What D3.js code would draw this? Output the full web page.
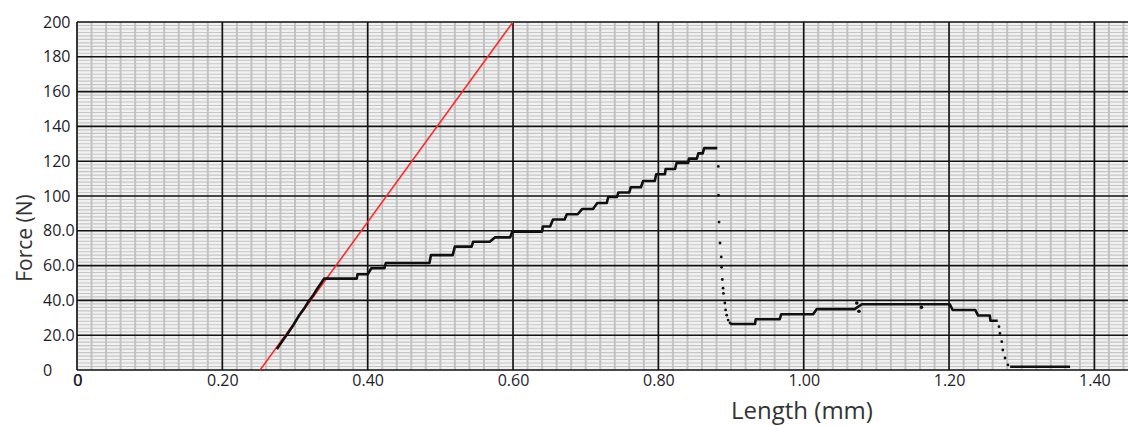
<!DOCTYPE html>
<html>
<head>
<meta charset="utf-8">
<script src="https://cdn.jsdelivr.net/npm/d3@7"></script>
<style>
  html, body { margin: 0; padding: 0; background: #fff; }
  svg { display: block; }
  text { font-family: "Open Sans", "DejaVu Sans", sans-serif; }
</style>
</head>
<body>
<svg id="chart" width="1128" height="426"></svg>
<script>
// Axis ticks
const xTickValues = [0, 0.2, 0.4, 0.6, 0.8, 1.0, 1.2, 1.4];
const xTickLabels = ["0", "0.20", "0.40", "0.60", "0.80", "1.00", "1.20", "1.40"];
const yTickValues = [0, 20, 40, 60, 80, 100, 120, 140, 160, 180, 200];
const yTickLabels = ["0", "20.0", "40.0", "60.0", "80.0", "100", "120", "140", "160", "180", "200"];

// Elastic slope reference line (length mm, force N)
const fitLength = [0.252, 0.600];
const fitForce = [0, 200];

// Initial elastic rise of the specimen
const elasticLength = [0.275, 0.283, 0.290, 0.298, 0.305, 0.312, 0.318, 0.325, 0.331, 0.336, 0.340];
const elasticForce = [12, 17, 21, 26, 31, 35, 39, 43, 47, 50, 52.5];

// Stepped loading after yield: start length, end length, force
const loadStart = [0.340, 0.386, 0.405, 0.425, 0.487, 0.520, 0.545, 0.575, 0.599, 0.641, 0.655, 0.674, 0.695, 0.716, 0.731, 0.745, 0.762, 0.779, 0.797, 0.810, 0.825, 0.842, 0.855, 0.863];
const loadEnd   = [0.385, 0.400, 0.423, 0.485, 0.517, 0.543, 0.568, 0.596, 0.640, 0.651, 0.671, 0.689, 0.710, 0.729, 0.743, 0.760, 0.776, 0.795, 0.809, 0.823, 0.841, 0.853, 0.861, 0.881];
const loadForce = [52.5, 55, 58.5, 61.5, 66, 70.9, 73.7, 76.2, 79.5, 82.5, 86.5, 89.5, 92.5, 96, 99.4, 102, 105, 108.6, 112.5, 115.5, 119, 121.5, 124.5, 127.5];

// Sparse samples during the fracture drop
const fractureLength = [0.8825, 0.8828, 0.8835, 0.8848, 0.8865, 0.887, 0.888, 0.889, 0.8895, 0.8915, 0.8925, 0.894, 0.896, 0.8986];
const fractureForce  = [117, 100.5, 85, 73, 65, 59, 52, 47, 44, 38.5, 34.5, 31.5, 28.7, 27];

// Residual load plateau steps
const residualStart = [0.899, 0.934, 0.969, 1.018, 1.080, 1.205, 1.240, 1.257];
const residualEnd   = [0.933, 0.967, 1.013, 1.070, 1.201, 1.236, 1.256, 1.267];
const residualForce = [26.4, 29.2, 32, 35, 37.8, 34.5, 31.3, 28.3];

// Isolated glitch samples on the plateau
const glitchLength = [1.073, 1.076, 1.162];
const glitchForce = [38.5, 33.8, 36];

// Final release samples and remaining flat load
const releaseLength = [1.2687, 1.270, 1.2725, 1.274, 1.277, 1.281];
const releaseForce  = [24.9, 21, 16.3, 11.5, 6.9, 2.9];
const finalLength = [1.284, 1.3665];
const finalForce = [1.9, 1.9];

const W = 1128, H = 426;
const svg = d3.select("#chart");

const x = d3.scaleLinear().domain([0, 1.4]).range([77, 1094.4]);
const y = d3.scaleLinear().domain([0, 200]).range([370, 22]);
const xMax = x.invert(W);
const plotLeft = x(0), plotRight = W, plotTop = y(200), plotBottom = y(0);

svg.append("defs").append("clipPath").attr("id", "plot-clip")
  .append("rect")
  .attr("x", plotLeft).attr("y", plotTop)
  .attr("width", plotRight - plotLeft).attr("height", plotBottom - plotTop);

// Grid background
svg.append("rect")
  .attr("x", plotLeft).attr("y", plotTop)
  .attr("width", plotRight - plotLeft).attr("height", plotBottom - plotTop)
  .attr("fill", "#f1f1f1");

const grid = svg.append("g");

grid.selectAll("line.hminor")
  .data(d3.range(0, 201, 2))
  .join("line")
  .attr("class", "hminor")
  .attr("x1", plotLeft).attr("x2", plotRight)
  .attr("y1", d => y(d)).attr("y2", d => y(d))
  .attr("stroke", "#c6c6c6").attr("stroke-width", 1.1);

grid.selectAll("line.vminor")
  .data(d3.range(0, xMax, 0.02))
  .join("line")
  .attr("class", "vminor")
  .attr("x1", d => x(d)).attr("x2", d => x(d))
  .attr("y1", plotTop).attr("y2", plotBottom)
  .attr("stroke", "#c2c2c2").attr("stroke-width", 2);

grid.selectAll("line.hmajor")
  .data(yTickValues)
  .join("line")
  .attr("class", "hmajor")
  .attr("x1", plotLeft).attr("x2", plotRight)
  .attr("y1", d => y(d)).attr("y2", d => y(d))
  .attr("stroke", "#141414").attr("stroke-width", 1.6);

grid.selectAll("line.vmajor")
  .data(xTickValues)
  .join("line")
  .attr("class", "vmajor")
  .attr("x1", d => x(d)).attr("x2", d => x(d))
  .attr("y1", plotTop).attr("y2", plotBottom)
  .attr("stroke", "#141414").attr("stroke-width", 1.6);

// Axes (labels only)
const xAxis = d3.axisBottom(x)
  .tickValues(xTickValues)
  .tickFormat((d, i) => xTickLabels[i])
  .tickSize(0).tickPadding(5);
const gx = svg.append("g").attr("transform", `translate(0,${plotBottom})`).call(xAxis);
gx.select(".domain").remove();
gx.selectAll("text").attr("font-size", 16).attr("fill", "#1c1c2a")
  .attr("font-family", "'Open Sans', sans-serif");
// the origin label is printed twice, slightly offset
gx.append("text").attr("x", x(0) + 1.2).attr("y", 5).attr("dy", "0.71em")
  .attr("text-anchor", "middle").attr("font-size", 16).attr("fill", "#1c1c2a")
  .attr("font-family", "'Open Sans', sans-serif").text(xTickLabels[0]);

const yAxis = d3.axisLeft(y)
  .tickValues(yTickValues)
  .tickFormat((d, i) => yTickLabels[i])
  .tickSize(0);
const gy = svg.append("g").attr("transform", `translate(${plotLeft},0)`).call(yAxis);
gy.select(".domain").remove();
gy.selectAll("text").attr("font-size", 16).attr("fill", "#1c1c2a")
  .attr("font-family", "'Open Sans', sans-serif")
  .attr("text-anchor", "start").attr("x", 43 - plotLeft);

// Axis titles
svg.append("text")
  .attr("x", 802).attr("y", 419)
  .attr("text-anchor", "middle")
  .attr("font-size", 24).attr("fill", "#333")
  .text("Length (mm)");
svg.append("text")
  .attr("transform", "translate(32,238) rotate(-90)")
  .attr("text-anchor", "middle")
  .attr("font-size", 21).attr("fill", "#333")
  .text("Force (N)");

const plot = svg.append("g").attr("clip-path", "url(#plot-clip)");
const line = d3.line().x(d => x(d[0])).y(d => y(d[1]));

// Elastic slope line
plot.append("path")
  .datum(d3.zip(fitLength, fitForce))
  .attr("d", line)
  .attr("fill", "none").attr("stroke", "#ff2a2a").attr("stroke-width", 1.6);

// Loading curve
const loadPts = d3.zip(elasticLength, elasticForce)
  .concat(d3.merge(loadStart.map((s, i) => [[s, loadForce[i]], [loadEnd[i], loadForce[i]]])));
plot.append("path")
  .datum(loadPts)
  .attr("d", line)
  .attr("fill", "none").attr("stroke", "#111").attr("stroke-width", 2.6)
  .attr("stroke-linejoin", "round");

// Residual plateau
const residualPts = d3.merge(residualStart.map((s, i) => [[s, residualForce[i]], [residualEnd[i], residualForce[i]]]));
plot.append("path")
  .datum(residualPts)
  .attr("d", line)
  .attr("fill", "none").attr("stroke", "#111").attr("stroke-width", 2.6)
  .attr("stroke-linejoin", "round");

plot.append("path")
  .datum(d3.zip(finalLength, finalForce))
  .attr("d", line)
  .attr("fill", "none").attr("stroke", "#111").attr("stroke-width", 2.6);

// Sparse samples
const dots = d3.zip(fractureLength, fractureForce)
  .concat(d3.zip(releaseLength, releaseForce));
plot.selectAll("circle.sample")
  .data(dots)
  .join("circle")
  .attr("class", "sample")
  .attr("cx", d => x(d[0])).attr("cy", d => y(d[1]))
  .attr("r", 1.4).attr("fill", "#111");

plot.selectAll("circle.glitch")
  .data(d3.zip(glitchLength, glitchForce))
  .join("circle")
  .attr("class", "glitch")
  .attr("cx", d => x(d[0])).attr("cy", d => y(d[1]))
  .attr("r", 1.8).attr("fill", "#111");
</script>
</body>
</html>
